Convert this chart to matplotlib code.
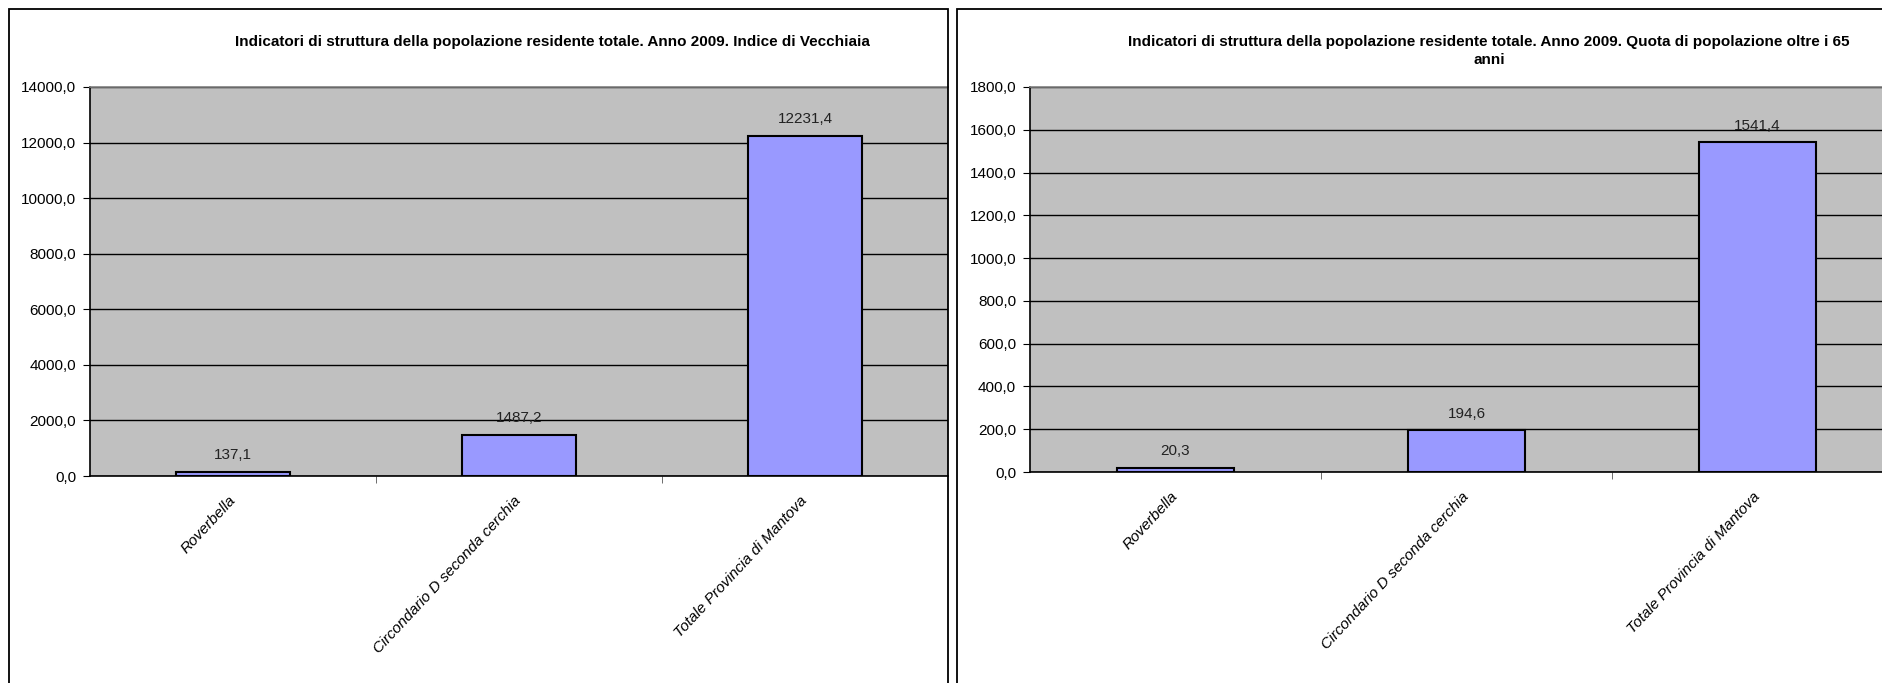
import matplotlib
matplotlib.use("Agg")
import matplotlib.pyplot as plt
from matplotlib.patches import Rectangle
from matplotlib.ticker import FuncFormatter, MultipleLocator, FixedLocator

categorie = ["Roverbella", "Circondario D seconda cerchia", "Totale Provincia di Mantova"]
vecchiaia = [137.1, 1487.2, 12231.4]
over65 = [20.3, 194.6, 1541.4]

titolo_sx = "Indicatori di struttura della popolazione residente totale. Anno 2009. Indice di Vecchiaia"
titolo_dx = ("Indicatori di struttura della popolazione residente totale. Anno 2009. Quota di popolazione oltre i 65\n"
             "anni")

W, H = 1883, 683
plt.rcParams['font.family'] = ['Liberation Sans', 'DejaVu Sans']

fig = plt.figure(figsize=(W / 100, H / 100), dpi=100)


def px(x0, y0, x1, y1):
    # pixel box (top-left origin) -> figure fraction rect
    return [x0 / W, 1 - y1 / H, (x1 - x0) / W, (y1 - y0) / H]


def virgola(v, pos):
    return f"{v:.1f}".replace(".", ",")


def disegna(ax, valori, ymax, passo):
    n = len(valori)
    ax.set_facecolor("#C0C0C0")
    ax.set_xlim(-0.5, n - 0.5)
    ax.set_ylim(0, ymax)
    ax.yaxis.set_major_locator(MultipleLocator(passo))
    ax.yaxis.set_major_formatter(FuncFormatter(virgola))
    ax.grid(axis="y", color="black", linewidth=1)
    ax.set_axisbelow(True)
    bars = ax.bar(range(n), valori, width=0.4, color="#9999FF", edgecolor="black", linewidth=1.5, zorder=3)
    for b, v in zip(bars, valori):
        ax.annotate(virgola(v, None), (b.get_x() + b.get_width() / 2, v), xytext=(0, 7),
                    textcoords="offset points", ha="center", va="bottom", fontsize=11, color="#222222")
    ax.xaxis.set_major_locator(FixedLocator(range(n)))
    ax.set_xticklabels(categorie, rotation=47, rotation_mode="anchor", ha="right", va="center",
                       fontsize=11, style="italic")
    ax.tick_params(axis="x", which="major", length=0, pad=16)
    ax.xaxis.set_minor_locator(FixedLocator([i + 0.5 for i in range(n - 1)]))
    ax.tick_params(axis="x", which="minor", length=5, direction="out", color="#555555")
    ax.tick_params(axis="y", length=5, direction="out", labelsize=11, color="black", pad=5)
    ax.spines["left"].set_color("black")
    ax.spines["bottom"].set_color("black")
    ax.spines["top"].set_color("#808080")
    ax.spines["right"].set_visible(False)
    for s in ["left", "bottom", "top"]:
        ax.spines[s].set_linewidth(1.2)


ax1 = fig.add_axes(px(90, 87, 948, 476))
disegna(ax1, vecchiaia, 14000, 2000)

ax2 = fig.add_axes(px(1030, 87, 1903, 472))
disegna(ax2, over65, 1800, 200)

# bordi dei due riquadri
fig.patches.append(Rectangle((9 / W, -0.1), (948 - 9) / W, 1 - 9 / H + 0.1, transform=fig.transFigure,
                             fill=False, edgecolor="black", linewidth=1.3))
fig.patches.append(Rectangle((957 / W, -0.1), 0.6, 1 - 9 / H + 0.1, transform=fig.transFigure,
                             fill=False, edgecolor="black", linewidth=1.3))

fig.text(552 / W, 1 - 42 / H, titolo_sx, ha="center", va="center", fontsize=11, fontweight="bold")
fig.text(1489 / W, 1 - 51 / H, titolo_dx, ha="center", va="center", fontsize=11, fontweight="bold",
         multialignment="center", linespacing=1.45)

fig.savefig("out.png", dpi=100)
